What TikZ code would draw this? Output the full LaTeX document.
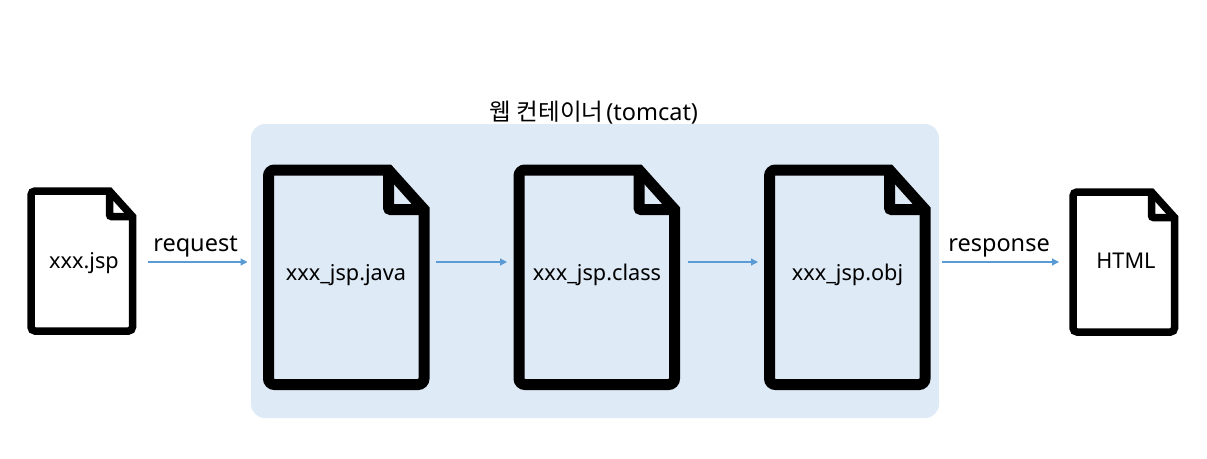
\documentclass[tikz,border=0pt]{standalone}
\usepackage{fontspec}
\setmainfont{Noto Sans}
\newfontfamily\cjk{Noto Sans CJK KR}
\usetikzlibrary{arrows.meta}
\definecolor{panelblue}{RGB}{222,234,246}
\definecolor{flowblue}{RGB}{91,155,213}

\begin{document}
\begin{tikzpicture}[
    x=1pt, y=-1pt,
    panel/.style={fill=panelblue, rounded corners=14pt},
    smallfile/.style={inner sep=0pt, outer sep=0pt, minimum width=101.5pt, minimum height=140pt},
    bigfile/.style={inner sep=0pt, outer sep=0pt, minimum width=155.5pt, minimum height=214.5pt},
    fileline/.style={draw=black, line join=miter},
    filetext/.style={inner sep=0pt, font=\fontsize{21.7}{26}\selectfont},
    flowtext/.style={inner sep=0pt, font=\fontsize{23.5}{28}\selectfont},
    flow/.style={draw=flowblue, line width=1.2pt, -{Triangle[length=7pt, width=7pt]}}
]
\useasboundingbox (0, 0) rectangle (1207, 458);

% container
\node[panel, minimum width=688pt, minimum height=294pt, inner sep=0pt] (tomcat) at (595, 271) {};
\node[flowtext] (tomcattext) at (594, 113) {{\cjk 웹 컨테이너}\kern3pt(tomcat)};

% files
\node[smallfile] (jsp) at (81.75, 261) {};
\node[bigfile] (java) at (346.25, 277.25) {};
\node[bigfile] (class) at (596.75, 277.25) {};
\node[bigfile] (obj) at (847.25, 277.25) {};
\node[smallfile] (html) at (1123.75, 262) {};

% file outlines
\foreach \n/\w/\h/\r/\t in {jsp/23/25.5/4/7.5, html/23/25.5/4/7.5, java/35.5/39.5/6/11, class/35.5/39.5/6/11, obj/35.5/39.5/6/11} {
    \draw[fileline, line width=\t pt] ([xshift=-\w pt]\n.north east) -- ([yshift=-\h pt]\n.north east)
        [rounded corners=\r pt] -- (\n.south east) -- (\n.south west) -- (\n.north west) [sharp corners] -- cycle;
    \draw[fileline, line width=\t pt] ([xshift=-\w pt]\n.north east)
        [rounded corners=2pt] -- ([xshift=-\w pt, yshift=-\h pt]\n.north east) [sharp corners] -- ([yshift=-\h pt]\n.north east);
}

% labels
\node[filetext] (jsptext) at (84, 263) {xxx.jsp};
\node[filetext] (javatext) at (346, 275) {xxx\_jsp.java};
\node[filetext] (classtext) at (597, 275) {xxx\_jsp.class};
\node[filetext] (objtext) at (847.5, 275) {xxx\_jsp.obj};
\node[filetext] (htmltext) at (1126, 261) {HTML};
\node[flowtext] (requesttext) at (195.5, 247) {request};
\node[flowtext] (responsetext) at (999, 248) {response};

% arrows
\draw[flow, shorten <=15.5pt, shorten >=21pt] (html.west -| jsp.east) -- (html.west -| java.west);
\draw[flow, shorten <=12pt, shorten >=12pt] (html.west -| java.east) -- (html.west -| class.west);
\draw[flow, shorten <=13pt, shorten >=11.5pt] (html.west -| class.east) -- (html.west -| obj.west);
\draw[flow, shorten <=17pt, shorten >=14pt] (html.west -| obj.east) -- (html.west);
\end{tikzpicture}
\end{document}
